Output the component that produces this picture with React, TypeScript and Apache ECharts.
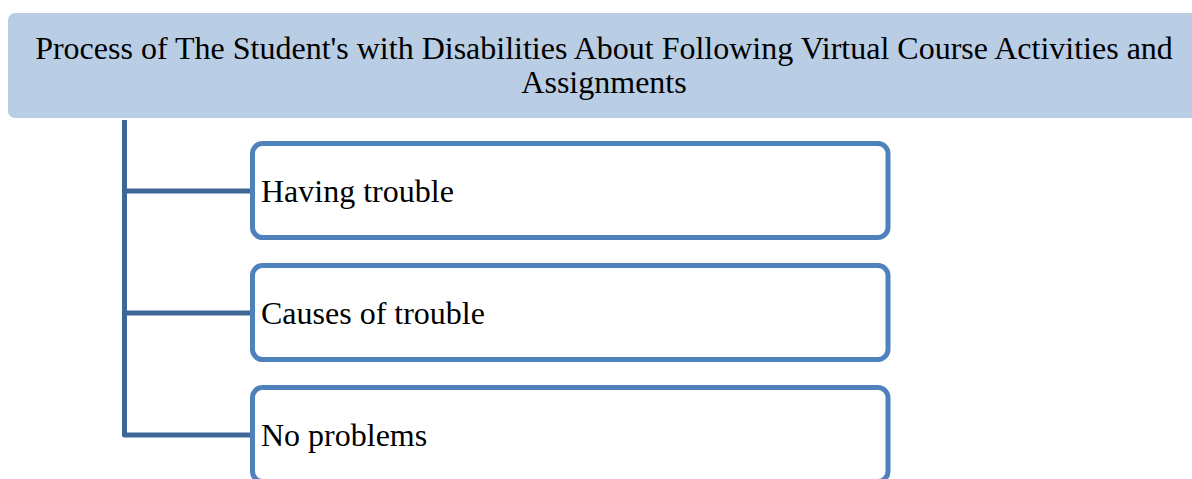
import React, { useEffect, useRef } from "react";
import * as echarts from "echarts";

const titleLines = [
  "Process of The Student's with Disabilities About Following Virtual Course Activities and",
  "Assignments",
];
const items = ["Having trouble", "Causes of trouble", "No problems"];

export default function App() {
  const ref = useRef<HTMLDivElement>(null);
  useEffect(() => {
    const chart = echarts.init(ref.current!, null, { renderer: "svg" });
    const boxX = 252.5;
    const boxW = 635.5;
    const boxH = 94;
    const firstTop = 143.5;
    const step = 122;
    const spineX = 124.5;
    const font = "'Liberation Serif', 'Times New Roman', serif";
    const elements: any[] = [];
    elements.push({
      type: "rect",
      shape: { x: 8, y: 13, width: 1200, height: 105, r: 7 },
      style: { fill: "#B9CDE5" },
    });
    titleLines.forEach((t, i) => {
      elements.push({
        type: "text",
        x: 604,
        y: 48 + i * 34,
        style: {
          text: t,
          fill: "#000",
          font: `32px ${font}`,
          align: "center",
          verticalAlign: "middle",
        },
      });
    });
    const lastCenter = firstTop + (items.length - 1) * step + boxH / 2 + 0.5;
    elements.push({
      type: "polyline",
      shape: {
        points: [
          [spineX, 120],
          [spineX, lastCenter],
          [boxX, lastCenter],
        ],
      },
      style: { stroke: "#3E6696", lineWidth: 5, fill: "none", lineJoin: "round" },
    });
    items.forEach((label, i) => {
      const top = firstTop + i * step;
      const cy = top + boxH / 2 + 0.5;
      if (i < items.length - 1) {
        elements.push({
          type: "line",
          shape: { x1: spineX, y1: cy, x2: boxX, y2: cy },
          style: { stroke: "#3E6696", lineWidth: 5 },
        });
      }
      elements.push({
        type: "rect",
        shape: { x: boxX, y: top, width: boxW, height: boxH, r: 10 },
        style: { fill: "#fff", stroke: "#4F81BD", lineWidth: 5 },
      });
      elements.push({
        type: "text",
        x: 261,
        y: cy,
        style: {
          text: label,
          fill: "#000",
          font: `32px ${font}`,
          align: "left",
          verticalAlign: "middle",
        },
      });
    });
    chart.setOption({
      animation: false,
      graphic: { elements },
    });
    return () => chart.dispose();
  }, []);
  return (
    <div
      ref={ref}
      style={{ position: "absolute", left: 0, top: 0, width: 1192, height: 479, background: "#fff" }}
    />
  );
}
